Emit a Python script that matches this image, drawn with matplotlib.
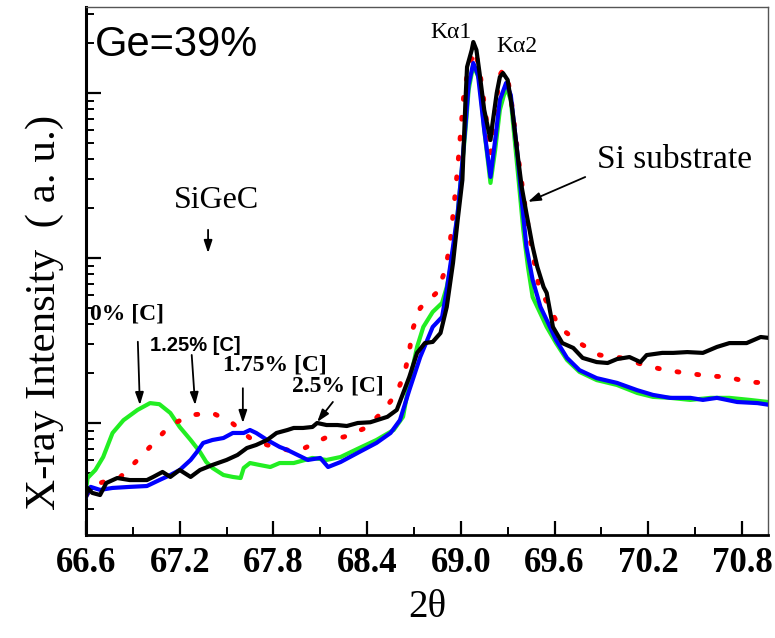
import numpy as np
import matplotlib
matplotlib.use("Agg")
import matplotlib.pyplot as plt
from matplotlib.ticker import FixedLocator, LogLocator, NullFormatter, FormatStrFormatter

# ---------------- data (2theta in degrees, intensity in a.u.) ----------------
green_x = [66.60, 66.61, 66.66, 66.71, 66.77, 66.84, 66.93, 67.01, 67.07, 67.14, 67.20, 67.27,
           67.33, 67.37, 67.41, 67.48, 67.54, 67.59, 67.61, 67.65, 67.71, 67.78, 67.84, 67.93,
           68.05, 68.14, 68.23, 68.35, 68.46, 68.57, 68.63, 68.67, 68.72, 68.76, 68.82, 68.88,
           68.91, 68.94, 68.96, 68.98, 69.00, 69.03, 69.05, 69.08, 69.12, 69.15, 69.19, 69.22,
           69.25, 69.29, 69.32, 69.37, 69.40, 69.43, 69.46, 69.49, 69.55, 69.61, 69.68, 69.76,
           69.87, 70.00, 70.13, 70.23, 70.34, 70.47, 70.60, 70.72, 70.85, 70.97]
green_y = [3.93, 4.64, 5.19, 6.22, 8.70, 10.4, 12.0, 13.2, 13.0, 11.5, 9.46, 7.89,
           6.67, 5.80, 5.34, 4.84, 4.71, 4.64, 5.34, 5.72, 5.57, 5.41, 5.72, 5.72,
           6.14, 5.97, 6.22, 7.05, 7.89, 9.07, 10.9, 17.5, 28.9, 38.2, 47.1, 53.4,
           66.7, 93.3, 129, 187, 297, 597, 1043, 1479, 1199, 597, 285, 451,
           789, 1087, 907, 297, 148, 88.2, 58.0, 50.5, 38.2, 30.5, 24.1, 20.4,
           18.2, 17.0, 15.2, 14.4, 14.2, 13.8, 14.2, 14.2, 13.8, 13.4]

red_x = [66.60, 66.69, 66.82, 66.93, 67.04, 67.14, 67.28, 67.41, 67.53, 67.65, 67.76, 67.89,
         68.00, 68.13, 68.25, 68.39, 68.50, 68.59, 68.64, 68.67, 68.69, 68.74, 68.85, 68.90,
         68.93, 68.96, 68.98, 69.00, 69.02, 69.05, 69.09, 69.12, 69.16, 69.19, 69.22, 69.25,
         69.27, 69.30, 69.33, 69.37, 69.41, 69.45, 69.50, 69.56, 69.63, 69.76, 69.89, 70.03,
         70.17, 70.31, 70.44, 70.58, 70.71, 70.84, 70.97]
red_y = [3.66, 4.33, 4.71, 5.97, 7.67, 9.72, 11.2, 11.5, 10.1, 8.11, 7.36, 6.86,
         7.05, 8.11, 8.22, 9.33, 11.7, 15.2, 20.1, 26.9, 36.6, 49.8, 62.2, 84.6,
         120, 225, 356, 597, 1000, 1438, 1823, 1378, 736, 421, 789, 1285,
         1378, 1233, 811, 393, 210, 120, 66.7, 51.9, 38.2, 30.5, 25.8, 24.8,
         22.5, 20.9, 20.1, 19.3, 19.0, 17.7, 17.5]

blue_x = [66.60, 66.63, 66.69, 66.77, 66.88, 66.99, 67.07, 67.14, 67.20, 67.27, 67.31, 67.35,
          67.41, 67.48, 67.54, 67.61, 67.65, 67.69, 67.76, 67.84, 67.89, 68.02, 68.10, 68.15,
          68.23, 68.35, 68.46, 68.55, 68.61, 68.67, 68.74, 68.82, 68.88, 68.91, 68.95, 68.98,
          69.00, 69.03, 69.05, 69.08, 69.11, 69.15, 69.19, 69.22, 69.25, 69.29, 69.32, 69.36,
          69.39, 69.42, 69.46, 69.51, 69.55, 69.61, 69.68, 69.76, 69.87, 70.00, 70.13, 70.23,
          70.34, 70.47, 70.55, 70.64, 70.77, 70.90, 70.97]
blue_y = [3.56, 4.10, 3.93, 4.04, 4.10, 4.15, 4.51, 4.84, 5.19, 5.97, 6.67, 7.57,
          7.89, 8.11, 8.70, 8.70, 9.07, 8.70, 7.89, 7.16, 6.86, 5.97, 6.14, 5.41,
          5.80, 6.67, 7.57, 8.70, 10.4, 15.8, 25.1, 38.2, 43.9, 64.0, 117, 187,
          297, 640, 1118, 1520, 1285, 597, 310, 519, 907, 1150, 972, 451,
          225, 117, 73.6, 50.5, 42.1, 31.8, 24.8, 20.9, 18.7, 17.5, 15.8, 14.8,
          14.2, 14.2, 13.8, 14.2, 13.4, 13.2, 12.9]

black_x = [66.60, 66.61, 66.64, 66.69, 66.73, 66.80, 66.88, 66.99, 67.03, 67.09, 67.14, 67.20,
           67.27, 67.33, 67.41, 67.50, 67.57, 67.63, 67.69, 67.76, 67.82, 67.89, 67.93, 67.99,
           68.05, 68.08, 68.14, 68.21, 68.27, 68.34, 68.42, 68.53, 68.59, 68.67, 68.72, 68.77,
           68.82, 68.87, 68.91, 68.95, 68.98, 69.01, 69.03, 69.04, 69.07, 69.08, 69.10, 69.12,
           69.15, 69.19, 69.20, 69.23, 69.25, 69.27, 69.30, 69.33, 69.36, 69.39, 69.42, 69.46,
           69.49, 69.53, 69.55, 69.59, 69.65, 69.72, 69.78, 69.87, 69.94, 70.00, 70.08, 70.15,
           70.19, 70.29, 70.36, 70.45, 70.55, 70.64, 70.72, 70.83, 70.92, 70.97]
black_y = [3.56, 4.04, 3.77, 3.66, 4.33, 4.64, 4.51, 4.51, 4.71, 5.05, 4.71, 5.19,
           4.71, 5.19, 5.57, 5.97, 6.40, 7.05, 7.36, 7.89, 8.70, 9.07, 9.33, 9.33,
           9.46, 10.0, 9.72, 9.72, 9.59, 10.0, 10.1, 10.9, 12.0, 19.0, 26.6, 30.5,
           31.0, 35.1, 50.5, 93.3, 170, 297, 907, 1438, 1823, 2037, 1823, 1322,
           789, 519, 622, 1000, 1250, 1322, 1199, 789, 451, 269, 187, 117,
           88.2, 66.7, 61.4, 38.2, 30.5, 28.5, 24.8, 23.4, 23.1, 24.4, 25.1, 23.4,
           25.8, 26.6, 26.6, 26.9, 26.6, 28.9, 30.5, 30.5, 33.2, 32.8]

x_ticks = [66.6, 67.2, 67.8, 68.4, 69.0, 69.6, 70.2, 70.8]
x_minor = [66.9, 67.5, 68.1, 68.7, 69.3, 69.9, 70.5]
x_range = (66.6, 70.967)
y_range = (2.095, 3320)

SERIF = ["Liberation Serif", "DejaVu Serif"]
SANS = ["Liberation Sans", "DejaVu Sans"]

# ---------------- figure ----------------
fig = plt.figure(figsize=(7.75, 6.38), dpi=100)
L, R, T, B = 86, 768, 7, 535
ax = fig.add_axes([L / 775, 1 - B / 638, (R - L) / 775, (B - T) / 638])

ax.plot(green_x, green_y, color="#22ee22", lw=3.0, zorder=2,
        solid_joinstyle="round", solid_capstyle="round")
ax.plot(red_x, red_y, color="#ff0000", lw=3.5, zorder=3, linestyle=(0, (0.4, 3.7)),
        dash_capstyle="round")
ax.plot(blue_x, blue_y, color="#0000ff", lw=3.0, zorder=4,
        solid_joinstyle="round", solid_capstyle="round")
ax.plot(black_x, black_y, color="black", lw=3.0, zorder=5,
        solid_joinstyle="round", solid_capstyle="round")

ax.set_yscale("log")
ax.set_xlim(*x_range)
ax.set_ylim(*y_range)

ax.xaxis.set_major_locator(FixedLocator(x_ticks))
ax.xaxis.set_minor_locator(FixedLocator(x_minor))
ax.xaxis.set_major_formatter(FormatStrFormatter("%.1f"))
ax.yaxis.set_major_locator(LogLocator(base=10, numticks=10))
ax.yaxis.set_minor_locator(LogLocator(base=10, subs=np.arange(2, 10), numticks=20))
ax.yaxis.set_major_formatter(NullFormatter())
ax.yaxis.set_minor_formatter(NullFormatter())

ax.tick_params(axis="both", which="both", direction="in", top=False, right=False, color="black")
ax.tick_params(axis="x", which="major", length=10, width=1.6, pad=9)
ax.tick_params(axis="x", which="minor", length=6, width=1.4)
ax.tick_params(axis="y", which="major", length=11, width=1.6)
ax.tick_params(axis="y", which="minor", length=6, width=1.4)
for lab in ax.get_xticklabels():
    lab.set_family(SERIF)
    lab.set_fontweight("bold")
    lab.set_fontsize(25)

ax.spines["left"].set_linewidth(2.2)
ax.spines["bottom"].set_linewidth(2.0)
ax.spines["top"].set_linewidth(1.0)
ax.spines["right"].set_linewidth(1.0)
ax.spines["top"].set_color("#555555")
ax.spines["right"].set_color("#555555")

ax.set_xlabel("2\u03b8", family=SERIF, fontsize=28, labelpad=6)
fig.text(45 / 775, 1 - 312 / 638, "X-ray Intensity  ( a. u.)", family=SERIF, fontsize=31,
         rotation=90, ha="center", va="center")

# ---------------- annotations ----------------
tA = ax.transAxes
ax.text(0.013, 0.928, "Ge=39%", family=SANS, fontsize=30, transform=tA, ha="left", va="center")
ax.text(0.535, 0.951, "K\u03b11", family=SERIF, fontsize=17, transform=tA, ha="center", va="center")
ax.text(0.632, 0.926, "K\u03b12", family=SERIF, fontsize=17, transform=tA, ha="center", va="center")
ax.text(0.749, 0.710, "Si substrate", family=SERIF, fontsize=24, transform=tA, ha="left", va="center")
ax.text(0.191, 0.634, "SiGeC", family=SERIF, fontsize=23, transform=tA, ha="center", va="center")

ax.text(0.006, 0.419, "0% [C]", family=SERIF, fontweight="bold", fontsize=17, transform=tA,
        ha="left", va="center")
ax.text(0.094, 0.358, "1.25% [C]", family=SANS, fontweight="bold", fontsize=14.5, transform=tA,
        ha="left", va="center")
ax.text(0.201, 0.322, "1.75% [C]", family=SERIF, fontweight="bold", fontsize=17, transform=tA,
        ha="left", va="center")
ax.text(0.302, 0.282, "2.5% [C]", family=SERIF, fontweight="bold", fontsize=17, transform=tA,
        ha="left", va="center")

arrows = [((0.732, 0.678), (0.648, 0.631)),
          ((0.179, 0.578), (0.179, 0.534)),
          ((0.076, 0.366), (0.079, 0.246)),
          ((0.155, 0.341), (0.160, 0.246)),
          ((0.230, 0.278), (0.230, 0.212)),
          ((0.362, 0.252), (0.339, 0.214))]
for (x0, y0), (x1, y1) in arrows:
    ax.annotate("", xy=(x1, y1), xycoords=tA, xytext=(x0, y0), textcoords=tA,
                arrowprops=dict(arrowstyle="-|>,head_length=0.75,head_width=0.25",
                                color="black", lw=1.3, shrinkA=0, shrinkB=0), zorder=6)

fig.savefig("out.png", dpi=100)
